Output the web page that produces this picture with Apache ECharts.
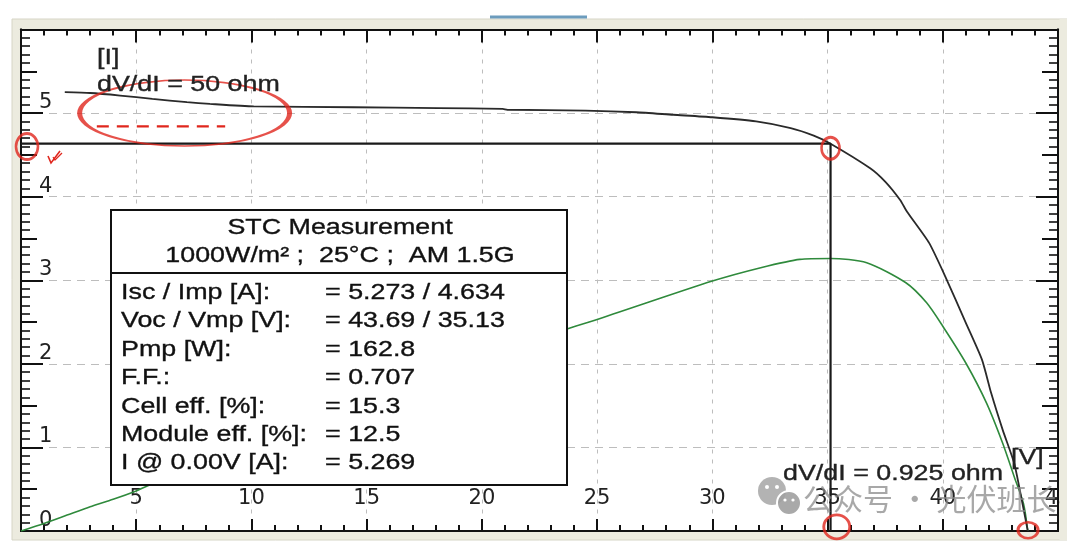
<!DOCTYPE html>
<html><head><meta charset="utf-8">
<script src="https://cdn.jsdelivr.net/npm/echarts@6/dist/echarts.min.js"></script>
<style>html,body{margin:0;padding:0;background:#fff}#c{width:1080px;height:543px}</style>
</head><body><div id="c"></div>
<script>
// I-V curve (black)
const ivVoltage = [1.9, 3.0, 4.3, 5.7, 7.2, 8.2, 10.1, 14.4, 18.1, 20.9, 21.1, 24.5, 26.7, 28.3, 30.0, 31.9, 33.4, 34.4, 35.13, 36.85, 37.5, 38.15, 38.45, 39.4, 40.1, 41.0, 41.7, 42.1, 42.6, 43.1, 43.4, 43.69];
const ivCurrent = [5.25, 5.24, 5.21, 5.17, 5.13, 5.11, 5.08, 5.07, 5.06, 5.05, 5.04, 5.03, 5.01, 4.98, 4.95, 4.90, 4.82, 4.73, 4.634, 4.34, 4.18, 3.96, 3.82, 3.45, 3.05, 2.49, 2.05, 1.65, 1.21, 0.81, 0.41, 0];
// P-V curve (green, drawn on the current scale)
const pvVoltage = [0, 1, 2, 3, 4, 5, 5.5, 10, 15, 20, 23.4, 25.0, 30.0, 32.1, 33.8, 35.13, 36.7, 38.4, 39.3, 40.0, 41.0, 41.9, 42.6, 43.1, 43.5, 43.69];
const pvScaled  = [0, 0.09, 0.19, 0.29, 0.38, 0.48, 0.54, 1.02, 1.53, 2.04, 2.39, 2.53, 2.99, 3.15, 3.25, 3.26, 3.21, 2.97, 2.73, 2.45, 2.01, 1.53, 1.05, 0.65, 0.33, 0];
// maximum power point
const mppVoltage = 35.13;
const mppCurrent = 4.634;
// red hand-drawn annotations (data coordinates)
const markVoltage = [7.1, 0.26, 35.13, 35.4, 43.7];
const markCurrent = [5.0, 4.6, 4.58, 0.05, 0.01];
const dashVoltage = [3.29, 8.86];
const dashCurrent = [4.84, 4.84];
// info box
const boxTitle = ['STC Measurement', '1000W/m\u00B2 ;  25\u00B0C ;  AM 1.5G'];
const boxLabels = ['Isc / Imp [A]:', 'Voc / Vmp [V]:', 'Pmp [W]:', 'F.F.:', 'Cell eff. [%]:', 'Module eff. [%]:', 'I @ 0.00V [A]:'];
const boxValues = ['= 5.273 / 4.634', '= 43.69 / 35.13', '= 162.8', '= 0.707', '= 15.3', '= 12.5', '= 5.269'];
const topTexts = ['[I]', 'dV/dI = 50 ohm'];
const bottomTexts = ['dV/dI = 0.925 ohm', '[V]'];
const watermark = '公众号 · 光伏班长';

const markSizes = [[210, 66], [22, 26], [18, 22], [26, 24], [20, 16]];
const ellipsePath = 'path://M0,50 A50,50 0 1,1 100,50 A50,50 0 1,1 0,50 Z';

const chart = echarts.init(document.getElementById('c'));
const ink = '#111';
const boxFont = '22px "Liberation Sans", Arial, sans-serif';
const SX = 1.22;
const red = '#e0261d';

function xAxisDef(pos, showLabel) {
  return {
    type: 'value', position: pos, min: 0, max: 45, interval: 5,
    axisLine: { show: true, onZero: false, lineStyle: { color: ink, width: 2 } },
    axisTick: { show: true, inside: true, length: pos === 'top' ? 13 : 12, lineStyle: { color: ink, width: 2 } },
    minorTick: { show: true, splitNumber: 5, length: 6, lineStyle: { color: ink, width: 2 } },
    axisLabel: showLabel ? {
      inside: true, margin: 22, fontFamily: 'DejaVu Sans', fontSize: 21, color: '#222',
      showMaxLabel: true, showMinLabel: true,
      formatter: v => (v === 0 ? '' : String(v))
    } : { show: false },
    splitLine: showLabel ? { show: true, lineStyle: { color: '#bdbdbd', type: [4, 6], width: 1 } } : { show: false }
  };
}
function yAxisDef(pos, interval, len, minor, showLabel) {
  return {
    type: 'value', position: pos, min: 0, max: 6, interval: interval,
    axisLine: { show: true, onZero: false, lineStyle: { color: ink, width: 2 } },
    axisTick: { show: true, inside: true, length: len, lineStyle: { color: ink, width: 2 } },
    minorTick: minor ? { show: true, splitNumber: 10, length: 9, lineStyle: { color: ink, width: 1.6 } } : { show: false },
    axisLabel: showLabel ? {
      inside: true, margin: 18, verticalAlign: 'bottom', fontFamily: 'DejaVu Sans', fontSize: 21, color: '#222',
      formatter: v => (v === 6 ? '' : String(v))
    } : { show: false },
    splitLine: showLabel ? { show: true, lineStyle: { color: '#bdbdbd', type: [8, 6], width: 1 } } : { show: false }
  };
}
function txt(x, y, t, align, fill) {
  return { type: 'text', z: 52, x: x, y: y, scaleX: SX,
    style: { text: t, font: boxFont, fill: fill || ink, stroke: fill || ink, lineWidth: 0.35, align: align, verticalAlign: 'middle' } };
}

const graphics = [
  { type: 'rect', z: -10, shape: { x: 12, y: 19, width: 1055, height: 521 }, style: { fill: '#ecebdf', stroke: '#d6d5c6', lineWidth: 1 } },
  { type: 'rect', z: -9, shape: { x: 21, y: 29.5, width: 1037, height: 501.5 }, style: { fill: '#ffffff' } },
  { type: 'rect', z: -8, shape: { x: 490, y: 15.5, width: 97, height: 3 }, style: { fill: '#6c9cbd' } },
  // cover right of the plot (clips the "45" label like the original)
  { type: 'rect', z: 60, shape: { x: 1059.5, y: 19, width: 7.5, height: 521 }, style: { fill: '#ecebdf' } },
  { type: 'rect', z: 60, shape: { x: 1067, y: 0, width: 13, height: 543 }, style: { fill: '#ffffff' } },
  // info box
  { type: 'rect', z: 50, shape: { x: 111, y: 210, width: 456, height: 275 }, style: { fill: '#fff', stroke: ink, lineWidth: 2 } },
  { type: 'line', z: 51, shape: { x1: 111, y1: 273, x2: 567, y2: 273 }, style: { stroke: ink, lineWidth: 2 } },
  txt(340, 228, boxTitle[0], 'center'),
  txt(340, 256, boxTitle[1], 'center')
];
boxLabels.forEach((t, i) => {
  graphics.push(txt(121, 293 + i * 28.4, t, 'left'));
  graphics.push(txt(325, 293 + i * 28.4, boxValues[i], 'left'));
});
graphics.push(
  txt(97, 58, topTexts[0], 'left', '#222'),
  txt(97, 85, topTexts[1], 'left', '#222'),
  txt(783, 474, bottomTexts[0], 'left', '#222'),
  txt(1011, 458, bottomTexts[1], 'left', '#222'),
  // red tick mark near the axis
  { type: 'polyline', z: 55, shape: { points: [[48, 156], [51, 163], [60, 151]] }, style: { stroke: red, lineWidth: 1.6, fill: null } },
  { type: 'polyline', z: 55, shape: { points: [[53, 157], [55, 160], [62, 153]] }, style: { stroke: red, lineWidth: 1.3, fill: null } },
  // watermark
  { type: 'circle', z: 70, shape: { cx: 772, cy: 491, r: 14 }, style: { fill: 'rgba(160,160,160,0.8)' } },
  { type: 'circle', z: 71, shape: { cx: 789, cy: 503, r: 12 }, style: { fill: 'rgba(160,160,160,0.9)', stroke: '#fff', lineWidth: 2 } },
  { type: 'circle', z: 72, shape: { cx: 767, cy: 487, r: 2 }, style: { fill: '#fff' } },
  { type: 'circle', z: 72, shape: { cx: 777, cy: 487, r: 2 }, style: { fill: '#fff' } },
  { type: 'circle', z: 72, shape: { cx: 785, cy: 500, r: 1.6 }, style: { fill: '#fff' } },
  { type: 'circle', z: 72, shape: { cx: 793, cy: 500, r: 1.6 }, style: { fill: '#fff' } },
  { type: 'text', z: 70, x: 803, y: 499, style: { text: watermark, font: '30px "Noto Sans CJK SC", sans-serif', fill: 'rgba(135,135,135,0.72)', align: 'left', verticalAlign: 'middle' } }
);

chart.setOption({
  animation: false,
  backgroundColor: '#ffffff',
  grid: { left: 21, right: 22, top: 29.5, bottom: 12, containLabel: false },
  xAxis: [xAxisDef('bottom', true), xAxisDef('top', false)],
  yAxis: [
    yAxisDef('left', 1, 22, true, true),
    yAxisDef('left', 0.5, 16, false, false),
    yAxisDef('right', 1, 22, true, false),
    yAxisDef('right', 0.5, 16, false, false)
  ],
  series: [
    { type: 'line', name: 'P', data: pvVoltage.map((v, i) => [v, pvScaled[i]]), symbol: 'none', z: 3,
      smooth: 0.25, lineStyle: { color: '#2f8a3c', width: 1.6 } },
    { type: 'line', name: 'I', data: ivVoltage.map((v, i) => [v, ivCurrent[i]]), symbol: 'none', z: 4,
      smooth: 0.2, lineStyle: { color: '#2a2a2a', width: 1.8 } },
    { type: 'line', name: 'MPP', data: [[0, mppCurrent], [mppVoltage, mppCurrent], [mppVoltage, 0]], symbol: 'none', z: 5,
      lineStyle: { color: '#1a1a1a', width: 2.2 } },
    { type: 'line', name: 'dash', data: dashVoltage.map((v, i) => [v, dashCurrent[i]]), symbol: 'none', z: 6,
      lineStyle: { color: red, width: 2.2, type: [12, 8] } },
    { type: 'scatter', name: 'marks', z: 7, silent: true,
      data: markVoltage.map((v, i) => ({ value: [v, markCurrent[i]], symbolSize: markSizes[i] })),
      symbol: ellipsePath,
      itemStyle: { color: 'rgba(0,0,0,0)', borderColor: red, borderWidth: 2.8 } }
  ],
  graphic: graphics
});
</script></body></html>
